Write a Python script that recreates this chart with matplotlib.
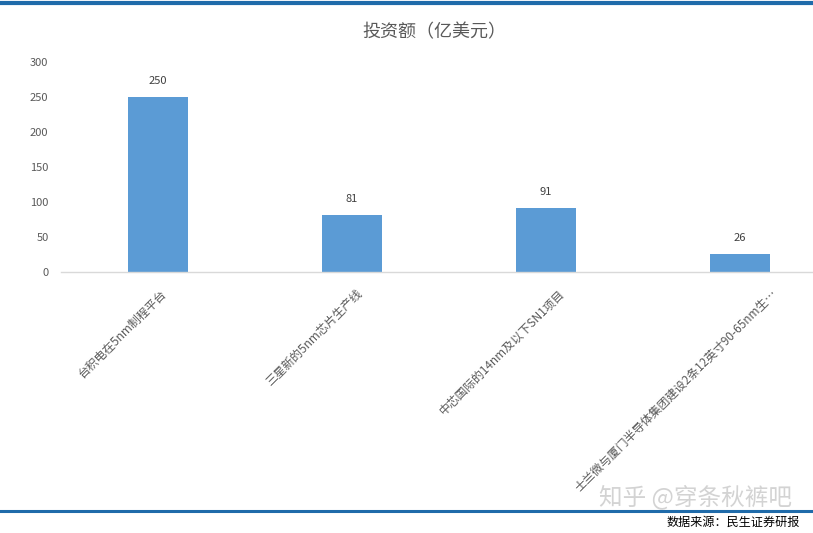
import matplotlib
matplotlib.use("Agg")
import matplotlib.pyplot as plt
from matplotlib.lines import Line2D

plt.rcParams['font.family'] = ['Noto Sans CJK SC', 'DejaVu Sans']

categories = ["台积电在5nm制程平台", "三星新的5nm芯片生产线", "中芯国际的14nm及以下SN1项目",
              "士兰微与厦门半导体集团建设2条12英寸90-65nm生…"]
values = [250, 81, 91, 26]
yticks = [0, 50, 100, 150, 200, 250, 300]

W, H = 813, 533
fig = plt.figure(figsize=(W / 100, H / 100), dpi=100)
fig.patch.set_facecolor('white')

# axes: left 61px, category width 194px, y0 at 272px, y300 at 62px
left = 61 / W
width = (194 * 4) / W
bottom = 1 - 272 / H
height = (272 - 62) / H
ax = fig.add_axes([left, bottom, width, height])

x = list(range(len(categories)))
ax.bar(x, values, width=0.31, color='#5B9BD5', zorder=2)
ax.set_xlim(-0.5, 3.5)
ax.set_ylim(0, 300)
ax.set_yticks(yticks)
ax.set_yticklabels([str(v) for v in yticks], fontsize=8, color='#595959')
ax.tick_params(axis='y', length=0, pad=9)
ax.tick_params(axis='x', length=0)
for s in ['top', 'right', 'left']:
    ax.spines[s].set_visible(False)
ax.spines['bottom'].set_color('#D9D9D9')
ax.spines['bottom'].set_linewidth(1)

for xi, v in zip(x, values):
    ax.annotate(str(v), (xi, v), xytext=(0, 8), textcoords='offset points',
                ha='center', va='bottom', fontsize=8, color='#404040')

ax.set_xticks(x)
ax.set_xticklabels([])

# rotated category labels, top-right corner placed just below the axis
fig.canvas.draw()
renderer = fig.canvas.get_renderer()
label_top_px = 287  # from top of image
for xi, lab in zip(x, categories):
    t = fig.text(0, 0, lab, rotation=45, ha='right', va='top',
                 fontsize=8.5, color='#595959')
    bb = t.get_window_extent(renderer)
    dx = bb.width
    off = 0.25 * dx - 12
    xd = ax.transData.transform((xi, 0))[0] + off
    t.set_position((xd / W, 1 - label_top_px / H))

fig.text(434 / W, 1 - 32 / H, "投资额（亿美元）", ha='center', va='center',
         fontsize=13, color='#595959')

# top and bottom rules
fig.add_artist(Line2D([0, 1], [1 - 3 / H, 1 - 3 / H], transform=fig.transFigure,
                      color='#1F6BAA', linewidth=3))
fig.add_artist(Line2D([0, 1], [1 - 511 / H, 1 - 511 / H], transform=fig.transFigure,
                      color='#1F6BAA', linewidth=2.2))

fig.text(800 / W, 1 - 522 / H, "数据来源：民生证券研报", ha='right', va='center',
         fontsize=8.7, color='#000000')
fig.text(695 / W, 1 - 497 / H, "知乎 @穿条秋裤吧", ha='center', va='center',
         fontsize=17, color='#C8C8C8', alpha=0.8)

fig.savefig("out.png", dpi=100, facecolor='white')
